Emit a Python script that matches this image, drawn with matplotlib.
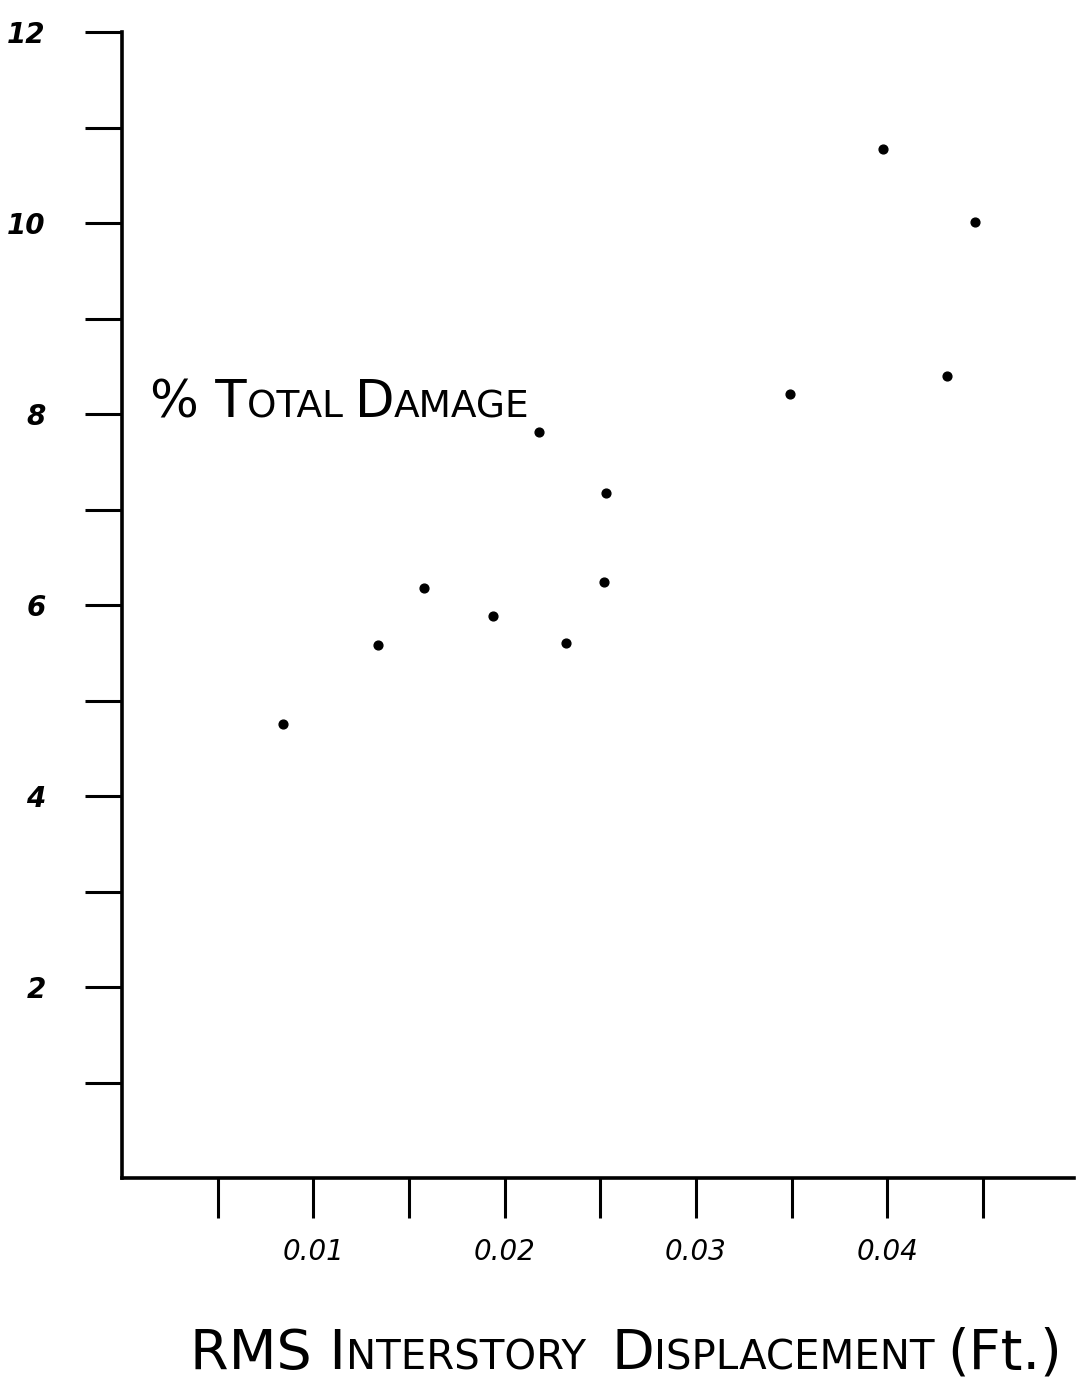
import matplotlib
matplotlib.use("Agg")
import matplotlib.pyplot as plt
from matplotlib.transforms import IdentityTransform

# ================= data =================
rms_disp = [0.0084, 0.0134, 0.0158, 0.0194, 0.0218, 0.0232,
            0.0252, 0.0253, 0.0349, 0.0398, 0.0431, 0.0446]
pct_damage = [4.75, 5.58, 6.18, 5.88, 7.81, 5.60,
              6.24, 7.17, 8.21, 10.77, 8.40, 10.01]

y_major = [2, 4, 6, 8, 10, 12]
y_minor = [1, 3, 5, 7, 9, 11]
x_major = [0.01, 0.02, 0.03, 0.04]
x_minor = [0.005, 0.015, 0.025, 0.035, 0.045]
x_labels = ["0.01", "0.02", "0.03", "0.04"]

# title pieces: (text, big letter?)
ylabel_parts = [("% T", True), ("OTAL ", False), ("D", True), ("AMAGE", False)]
xlabel_parts = [("RMS I", True), ("NTERSTORY  ", False), ("D", True),
                ("ISPLACEMENT ", False), ("(Ft.)", True)]

FONT = "DejaVu Sans"


def caps_text(fig, x, y, parts, big, small):
    # draw small-caps style text piece by piece, in pixel coordinates
    renderer = fig.canvas.get_renderer()
    for chunk, is_big in parts:
        t = fig.text(x, y, chunk, fontsize=big if is_big else small,
                     family=FONT, transform=IdentityTransform(),
                     va="baseline", ha="left", color="black")
        bb = t.get_window_extent(renderer)
        x = bb.x1


def main():
    W, H = 1076, 1380
    fig = plt.figure(figsize=(W / 100, H / 100), dpi=100)
    left, right, top, bottom = 122, 1074, 32, 1178
    ax = fig.add_axes([left / W, 1 - bottom / H, (right - left) / W, (bottom - top) / H])

    ax.scatter(rms_disp, pct_damage, s=40, color="black", zorder=3)

    ax.set_xlim(0, 0.04976)
    ax.set_ylim(0, 12)

    for s in ["top", "right"]:
        ax.spines[s].set_visible(False)
    for s in ["left", "bottom"]:
        ax.spines[s].set_linewidth(2.6)

    ax.set_yticks(y_major)
    ax.set_yticklabels([str(v) for v in y_major], fontsize=20, style="italic",
                       weight="bold", family=FONT)
    ax.set_yticks(y_minor, minor=True)
    ax.set_xticks(x_major)
    ax.set_xticklabels(x_labels, fontsize=20, style="italic", family=FONT)
    ax.set_xticks(x_minor, minor=True)

    ax.tick_params(axis="y", which="both", direction="out", length=27, width=2.2, pad=28)
    ax.tick_params(axis="x", which="both", direction="out", length=29, width=2.2, pad=14)

    # axis titles hand-lettered in small caps
    fig.canvas.draw()
    caps_text(fig, 150, H - 417, ylabel_parts, 37, 27)
    caps_text(fig, 190, H - 1369, xlabel_parts, 40, 29)

    fig.savefig("out.png", dpi=100)


if __name__ == "__main__":
    main()
